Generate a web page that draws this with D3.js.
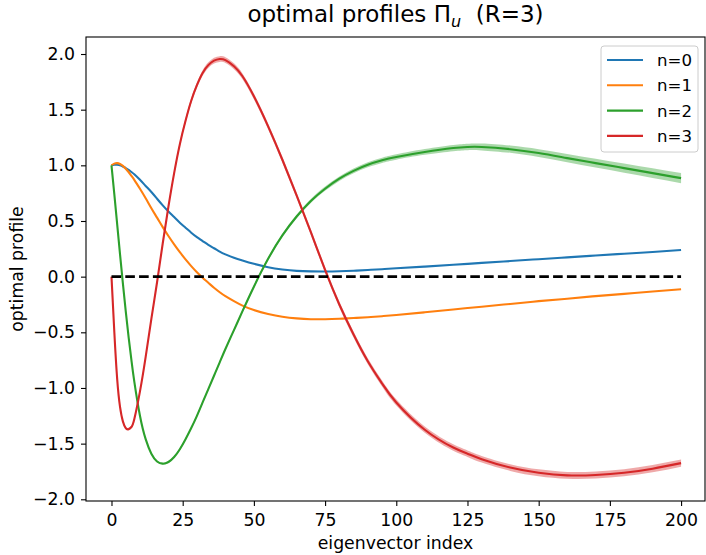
<!DOCTYPE html>
<html>
<head>
<meta charset="utf-8">
<script src="https://cdn.jsdelivr.net/npm/d3@7"></script>
<style>
  html, body { margin: 0; padding: 0; background: #fff; }
  svg { display: block; font-family: "DejaVu Sans", sans-serif; }
</style>
</head>
<body>
<div id="chart"></div>
<script>
// ---- data ----
const xs = [0,1,2,3,4,5,6,7,8,10,12,14,16,18,20,22,24,26,28,30,32,34,36,38,40,43,46,50,55,60,65,70,75,80,85,90,95,100,110,120,125,130,140,150,160,170,180,190,200];

const n0 = [1.0,1.005,1.005,1.0,0.99,0.975,0.96,0.94,0.92,0.87,0.815,0.76,0.70,0.64,0.585,0.535,0.485,0.44,0.395,0.355,0.32,0.285,0.255,0.225,0.20,0.17,0.145,0.115,0.085,0.065,0.052,0.047,0.046,0.048,0.053,0.06,0.067,0.075,0.09,0.107,0.115,0.124,0.14,0.157,0.173,0.19,0.206,0.222,0.24];

const n1 = [1.0,1.015,1.02,1.012,0.995,0.97,0.94,0.905,0.87,0.79,0.705,0.615,0.53,0.445,0.365,0.29,0.22,0.155,0.095,0.04,-0.01,-0.055,-0.1,-0.14,-0.175,-0.22,-0.26,-0.3,-0.335,-0.36,-0.375,-0.382,-0.382,-0.378,-0.372,-0.364,-0.355,-0.345,-0.32,-0.295,-0.282,-0.27,-0.245,-0.22,-0.198,-0.175,-0.155,-0.133,-0.113];

const n2 = [1.0,0.74,0.47,0.2,-0.06,-0.31,-0.54,-0.75,-0.94,-1.25,-1.46,-1.59,-1.66,-1.68,-1.665,-1.62,-1.55,-1.46,-1.36,-1.25,-1.13,-1.01,-0.89,-0.77,-0.65,-0.48,-0.31,-0.09,0.16,0.37,0.54,0.68,0.79,0.88,0.95,1.005,1.045,1.075,1.12,1.155,1.165,1.165,1.145,1.11,1.065,1.02,0.975,0.93,0.885];

const n3 = [0.0,-0.5,-0.92,-1.17,-1.3,-1.36,-1.37,-1.35,-1.28,-1.03,-0.72,-0.38,-0.05,0.3,0.63,0.93,1.19,1.4,1.58,1.72,1.83,1.9,1.94,1.955,1.945,1.89,1.8,1.62,1.35,1.05,0.73,0.4,0.06,-0.25,-0.52,-0.76,-0.96,-1.13,-1.375,-1.535,-1.59,-1.64,-1.715,-1.762,-1.785,-1.782,-1.762,-1.725,-1.675];

// half-widths of the shaded uncertainty bands
const band2 = [0.003,0.004,0.004,0.005,0.005,0.005,0.006,0.006,0.006,0.007,0.007,0.008,0.008,0.008,0.009,0.009,0.01,0.01,0.01,0.011,0.011,0.011,0.012,0.012,0.012,0.013,0.013,0.014,0.015,0.016,0.017,0.018,0.019,0.02,0.021,0.022,0.023,0.024,0.026,0.028,0.029,0.031,0.033,0.035,0.037,0.039,0.041,0.043,0.045];
const band3 = [0.003,0.006,0.008,0.01,0.011,0.012,0.013,0.013,0.014,0.015,0.016,0.017,0.018,0.019,0.02,0.021,0.022,0.023,0.024,0.024,0.025,0.025,0.026,0.026,0.026,0.026,0.026,0.026,0.026,0.026,0.026,0.026,0.026,0.026,0.027,0.027,0.027,0.028,0.028,0.029,0.029,0.03,0.03,0.031,0.031,0.032,0.032,0.033,0.033];

const seriesNames = ["n=0","n=1","n=2","n=3"];
const seriesColors = ["#1f77b4","#ff7f0e","#2ca02c","#d62728"];
const xTicks = [0,25,50,75,100,125,150,175,200];
const yTicks = [-2.0,-1.5,-1.0,-0.5,0.0,0.5,1.0,1.5,2.0];

// ---- layout ----
const W = 706, H = 555;
const L = 86, R = 705, T = 37, B = 501;

const svg = d3.select("#chart").append("svg")
  .attr("width", W).attr("height", H);

const x = d3.scaleLinear().domain([-8.95, 208.4]).range([L, R]);
const y = d3.scaleLinear().domain([-2.0153, 2.1528]).range([B, T]);

svg.append("defs").append("clipPath").attr("id","clip")
  .append("rect").attr("x", L).attr("y", T).attr("width", R - L).attr("height", B - T);

const plot = svg.append("g").attr("clip-path","url(#clip)");

const values = [n0, n1, n2, n3];
const bands = [null, null, band2, band3];

const line = d3.line().x(d => x(d[0])).y(d => y(d[1])).curve(d3.curveNatural);
const area = d3.area().x(d => x(d[0])).y0(d => y(d[1] - d[2])).y1(d => y(d[1] + d[2]))
  .curve(d3.curveNatural);

values.forEach((vals, i) => {
  const b = bands[i];
  if (b) {
    const pts = xs.map((xv, k) => [xv, vals[k], b[k]]);
    plot.append("path").attr("d", area(pts))
      .attr("fill", seriesColors[i]).attr("fill-opacity", 0.4).attr("stroke", "none");
  }
  const pts = xs.map((xv, k) => [xv, vals[k]]);
  plot.append("path").attr("d", line(pts))
    .attr("fill", "none").attr("stroke", seriesColors[i]).attr("stroke-width", 2.1)
    .attr("stroke-linejoin","round").attr("stroke-linecap","butt");
});

// zero reference line
plot.append("line")
  .attr("x1", x(0)).attr("x2", x(200)).attr("y1", y(0)).attr("y2", y(0))
  .attr("stroke", "#000").attr("stroke-width", 2.6).attr("stroke-dasharray", "9.6,4.2");

// ---- axes ----
const fs = 17.3;
const xAxis = d3.axisBottom(x).tickValues(xTicks).tickFormat(d3.format("d")).tickSize(5).tickPadding(8);
const yAxis = d3.axisLeft(y).tickValues(yTicks)
  .tickFormat(d => d3.format(".1f")(d).replace("-", "\u2212")).tickSize(5).tickPadding(6);

const gx = svg.append("g").attr("transform", `translate(0,${B})`).call(xAxis);
const gy = svg.append("g").attr("transform", `translate(${L},0)`).call(yAxis);
[gx, gy].forEach(g => {
  g.select(".domain").remove();
  g.selectAll(".tick line").attr("stroke", "#000").attr("stroke-width", 1.1);
  g.selectAll(".tick text").attr("fill", "#000").style("font-size", fs + "px")
    .style("font-family", "'DejaVu Sans', sans-serif");
});

// spines
svg.append("rect").attr("x", L).attr("y", T).attr("width", R - L).attr("height", B - T)
  .attr("fill", "none").attr("stroke", "#000").attr("stroke-width", 1.1);

// labels
svg.append("text").attr("x", (L + R) / 2).attr("y", 549).attr("text-anchor", "middle")
  .style("font-size", fs + "px").text("eigenvector index");
svg.append("text").attr("transform", `translate(23,${(T + B) / 2}) rotate(-90)`)
  .attr("text-anchor", "middle").style("font-size", fs + "px").text("optimal profile");

// title
const title = svg.append("text").attr("x", (L + R) / 2).attr("y", 22)
  .attr("text-anchor", "middle").style("font-size", "23px");
title.append("tspan").text("optimal profiles \u03A0");
title.append("tspan").attr("dy", 5).style("font-size", "16px").style("font-style", "italic").text("u");
title.append("tspan").attr("dy", -5).text("\u00A0\u00A0(R=3)");

// legend
const lg = svg.append("g");
lg.append("rect").attr("x", 601).attr("y", 46).attr("width", 97).attr("height", 106)
  .attr("rx", 3).attr("fill", "#fff").attr("fill-opacity", 0.8)
  .attr("stroke", "#cccccc").attr("stroke-width", 1);
seriesNames.forEach((nm, i) => {
  const yy = 60 + i * 25.3;
  lg.append("line").attr("x1", 607).attr("x2", 643).attr("y1", yy).attr("y2", yy)
    .attr("stroke", seriesColors[i]).attr("stroke-width", 2.1);
  lg.append("text").attr("x", 657).attr("y", yy + 6).style("font-size", "16.6px").text(nm);
});
</script>
</body>
</html>
